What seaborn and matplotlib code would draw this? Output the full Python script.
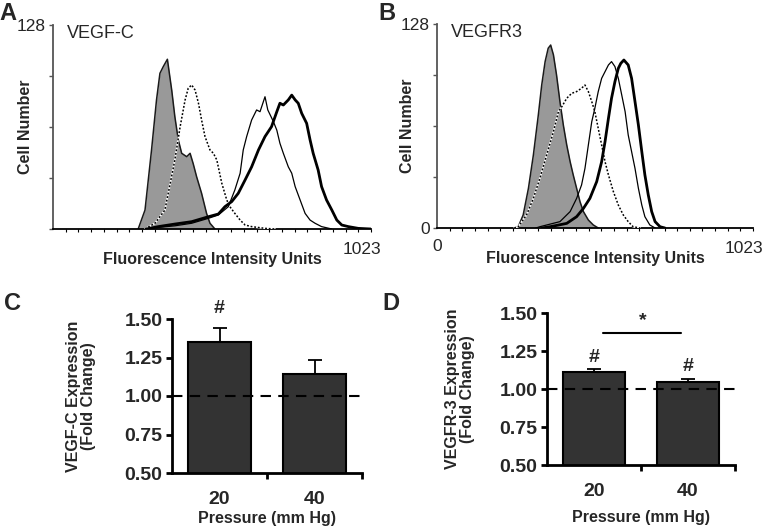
import numpy as np
import pandas as pd
import matplotlib
matplotlib.use('Agg')
import matplotlib.pyplot as plt
import seaborn as sns

# ---------------- data ----------------
# Panel A (VEGF-C) flow histograms: fluorescence units vs cell number
a_gray_x = [274, 296, 317, 333, 344, 355, 368, 382, 392, 403, 414, 430, 441, 451, 462, 478, 494, 505, 521]
a_gray_y = [0, 11.9, 49.6, 81, 97.7, 102, 106.5, 87, 70.5, 56, 47.5, 45.4, 47.5, 41, 32.8, 22.4, 9.8, 3.6, 0]
a_dot_x = [296, 328, 360, 392, 409, 425, 435, 446, 457, 468, 478, 489, 505, 516, 527, 543, 559, 569, 585, 602, 618, 639, 682, 714]
a_dot_y = [0, 3.6, 11.9, 43.3, 64.2, 81, 88.3, 90.4, 87.2, 78.9, 68.4, 58, 49.6, 47.5, 43.3, 28.7, 18.2, 14, 9.8, 5.6, 2.5, 1.5, 0.4, 0]
a_thin_x = [300, 339, 392, 446, 500, 532, 564, 585, 602, 612, 623, 639, 655, 666, 682, 691, 709, 720, 730, 741, 757, 768, 779, 795, 811, 827, 843, 864, 897]
a_thin_y = [0, 1, 2, 3.6, 6.7, 8.8, 14, 24.5, 35, 49.6, 58, 68.4, 74.7, 73.6, 83, 74.7, 67.4, 62, 53.8, 47.5, 39, 35, 26.6, 18.2, 9.8, 5.6, 3.6, 1.5, 0]
a_thick_x = [300, 339, 392, 446, 500, 532, 553, 575, 596, 618, 639, 661, 682, 703, 720, 730, 741, 757, 768, 779, 789, 800, 816, 827, 837, 853, 864, 880, 897, 913, 929, 950, 982, 1023]
a_thick_y = [0, 1.5, 3.1, 4.6, 7.7, 9.4, 14, 17.2, 22.4, 30.8, 39, 49.6, 58, 64.2, 73.6, 78.9, 77.8, 81, 84, 81, 78.9, 72.6, 66.3, 55.9, 47.5, 37, 26.6, 18.2, 11.9, 5.6, 2.5, 1.5, 0.4, 0]

# Panel B (VEGFR3) flow histograms
b_gray_x = [250, 263, 279, 296, 312, 328, 339, 350, 360, 368, 377, 387, 398, 409, 420, 431, 441, 452, 463, 474, 490, 506, 522]
b_gray_y = [0, 0.8, 8.2, 24.9, 45.8, 70.9, 89.7, 104.4, 112.8, 114.8, 108.6, 96, 79.3, 64.6, 52.1, 41.6, 33.3, 24.9, 16.5, 10.3, 5, 1.9, 0]
b_dot_x = [250, 263, 290, 312, 333, 355, 377, 393, 404, 420, 436, 452, 468, 479, 490, 501, 511, 522, 533, 544, 555, 571, 587, 603, 619, 635, 657]
b_dot_y = [0, 0.8, 8.2, 18.6, 31.2, 45.8, 60.5, 73, 76.1, 81.4, 84.5, 85.6, 87.7, 89.7, 85.6, 79.3, 73, 62.5, 52.1, 41.6, 33.3, 22.8, 14.4, 8.2, 4, 0.8, 0]
b_thin_x = [320, 333, 398, 431, 452, 468, 479, 490, 501, 511, 522, 533, 544, 555, 565, 576, 587, 598, 609, 619, 630, 641, 652, 663, 673, 689, 706]
b_thin_y = [0, 0.8, 4, 10.3, 18.6, 27, 37.4, 52.1, 66.7, 75.1, 85.6, 93.9, 98.1, 102.3, 104.4, 101.3, 93.9, 83.5, 73, 58.4, 47.9, 37.4, 24.9, 14.4, 7.1, 1.9, 0]
b_thick_x = [340, 366, 420, 452, 474, 495, 517, 533, 544, 555, 565, 576, 587, 595, 605, 619, 630, 641, 652, 663, 673, 684, 695, 706, 722, 738]
b_thick_y = [0, 0.8, 2.9, 7.1, 12.3, 18.6, 29.1, 41.6, 54.2, 68.8, 81.4, 91.8, 100.2, 103.3, 105.4, 102.3, 93.9, 79.3, 64.6, 47.9, 33.3, 20.7, 10.3, 4, 0.8, 0]

hist_yticks = [0, 32, 64, 96, 128]
hist_xmax = 1023

# Panels C and D: bar charts
pressure = ['20', '40']
c_mean = [1.35, 1.143]
c_err = [0.09, 0.09]
c_hash_y = [1.57]
d_mean = [1.112, 1.046]
d_err = [0.018, 0.020]
d_hash_y = [1.205, 1.15]
d_sig_x = [0.10, 0.93]
d_sig_y = 1.368
bar_yticks = [0.50, 0.75, 1.00, 1.25, 1.50]

# ---------------- style ----------------
sns.set_theme(style='white')
plt.rcParams['font.family'] = ['Liberation Sans', 'DejaVu Sans']

fig = plt.figure(figsize=(7.7, 5.26), dpi=100)
W, H = 770.0, 526.0


def axes_px(l, t, r, b):
    return fig.add_axes([l / W, 1 - b / H, (r - l) / W, (b - t) / H])


axA = axes_px(53, 25, 371, 229)
axB = axes_px(437, 24, 753, 228)
axC = axes_px(172, 319, 362, 473)
axD = axes_px(547, 313, 735, 465)


def draw_hist(ax, gx, gy, dx, dy, tx, ty, kx, ky, title, show_zero, lab_x):
    ax.fill_between(gx, gy, 0, color='#999999', lw=0, zorder=1)
    sns.lineplot(x=gx, y=gy, ax=ax, color='#1a1a1a', lw=1.1, sort=False, zorder=2)
    sns.lineplot(x=dx, y=dy, ax=ax, color='white', lw=1.3, sort=False, zorder=3)
    sns.lineplot(x=dx, y=dy, ax=ax, color='black', lw=1.1, sort=False, zorder=4,
                 linestyle=(0, (1.2, 1.2)))
    sns.lineplot(x=tx, y=ty, ax=ax, color='black', lw=0.9, sort=False, zorder=5)
    sns.lineplot(x=kx, y=ky, ax=ax, color='black', lw=2.0, sort=False, zorder=6)
    ax.set_xlim(0, hist_xmax)
    ax.set_ylim(0, 128)
    for s in ['top', 'right']:
        ax.spines[s].set_visible(False)
    ax.spines['left'].set_color('#555555')
    ax.spines['left'].set_linewidth(1.3)
    ax.spines['bottom'].set_color('black')
    ax.spines['bottom'].set_linewidth(1.3)
    ax.set_yticks(hist_yticks)
    ax.set_yticklabels(['0' if show_zero else '', '', '', '', '128'], fontsize=12.5)
    ax.set_xticks([0])
    ax.set_xticklabels(['0' if show_zero else ''], fontsize=12.5)
    ax.annotate(str(hist_xmax), xy=(hist_xmax, 0), xycoords=('data', 'axes fraction'),
                xytext=(-9, -21), textcoords='offset pixels', ha='center', va='center',
                fontsize=12.5, annotation_clip=False)
    ax.set_xticks(np.linspace(0, hist_xmax, 26), minor=True)
    ax.tick_params(axis='y', which='major', direction='out', length=3, width=1, color='#555555', pad=2, left=True)
    ax.tick_params(axis='x', which='major', direction='out', length=0, pad=8, bottom=True)
    ax.tick_params(axis='x', which='minor', direction='out', length=2.5, width=0.8, color='black', bottom=True)
    ax.set_xlabel('Fluorescence Intensity Units', fontsize=11.5, fontweight='bold')
    ax.xaxis.set_label_coords(0.5, -0.115)
    ax.set_ylabel('Cell Number', fontsize=11.5, fontweight='bold')
    ax.yaxis.set_label_coords(lab_x, 0.5)
    ax.text(0.045, 0.96, title, transform=ax.transAxes, fontsize=13, ha='left', va='center')
    ax.set_facecolor('none')


draw_hist(axA, a_gray_x, a_gray_y, a_dot_x, a_dot_y, a_thin_x, a_thin_y, a_thick_x, a_thick_y,
          'VEGF-C', False, -0.063)
draw_hist(axB, b_gray_x, b_gray_y, b_dot_x, b_dot_y, b_thin_x, b_thin_y, b_thick_x, b_thick_y,
          'VEGFR3', True, -0.07)


def draw_bars(ax, mean, err, hash_y, ylabel, lab_x, xlab_y):
    df = pd.DataFrame({'Pressure': pressure, 'Fold': mean})
    sns.barplot(data=df, x='Pressure', y='Fold', ax=ax, color='#333333', saturation=1,
                width=0.66, edgecolor='black', linewidth=1.5, errorbar=None, zorder=2)
    ax.errorbar(range(len(mean)), mean, yerr=[[0] * len(err), err], fmt='none',
                ecolor='black', elinewidth=1.3, capsize=5, capthick=1.3, zorder=1)
    ax.axhline(1.0, color='black', lw=1.5, ls=(0, (5, 3.5)), zorder=3)
    ax.set_xlim(-0.5, 1.5)
    ax.set_ylim(0.5, 1.5)
    for s in ['top', 'right']:
        ax.spines[s].set_visible(False)
    for s in ['left', 'bottom']:
        ax.spines[s].set_color('black')
        ax.spines[s].set_linewidth(2)
    ax.set_yticks(bar_yticks)
    ax.set_yticklabels([f'{v:.2f}' for v in bar_yticks], fontsize=14, fontweight='bold')
    ax.set_xticks([0, 1])
    ax.set_xticklabels(pressure, fontsize=14, fontweight='bold')
    ax.set_xticks([0.5, 1.5], minor=True)
    ax.tick_params(axis='y', which='major', direction='out', length=4, width=2, color='black', pad=3, left=True)
    ax.tick_params(axis='x', which='major', length=0, pad=13, bottom=True)
    ax.tick_params(axis='x', which='minor', direction='out', length=4, width=2, color='black', bottom=True)
    ax.set_xlabel('Pressure (mm Hg)', fontsize=11.5, fontweight='bold')
    ax.xaxis.set_label_coords(0.5, xlab_y)
    ax.set_ylabel(ylabel, fontsize=11.5, fontweight='bold', linespacing=1.0)
    ax.yaxis.set_label_coords(lab_x, 0.5)
    ax.set_facecolor('none')
    for i, hy in enumerate(hash_y):
        ax.text(i, hy, '#', ha='center', va='center', fontsize=14, fontweight='bold', clip_on=False)


draw_bars(axC, c_mean, c_err, c_hash_y, 'VEGF-C Expression\n(Fold Change)', -0.40, -0.25)
draw_bars(axD, d_mean, d_err, [d_hash_y[0]], 'VEGFR-3 Expression\n(Fold Change)', -0.385, -0.295)
axD.text(1, d_hash_y[1], '#', ha='center', va='center', fontsize=14, fontweight='bold')
sns.lineplot(x=d_sig_x, y=[d_sig_y, d_sig_y], ax=axD, color='black', lw=1.5)
axD.text(np.mean(d_sig_x), d_sig_y + 0.025, '*', ha='center', va='bottom', fontsize=14, fontweight='bold')

# panel letters
for lab, (x, y) in zip('ABCD', [(8, 13), (387, 13), (13, 304), (391, 304)]):
    fig.text(x / W, 1 - y / H, lab, fontsize=17, fontweight='bold', ha='center', va='center')

fig.savefig('out.png', dpi=100)
